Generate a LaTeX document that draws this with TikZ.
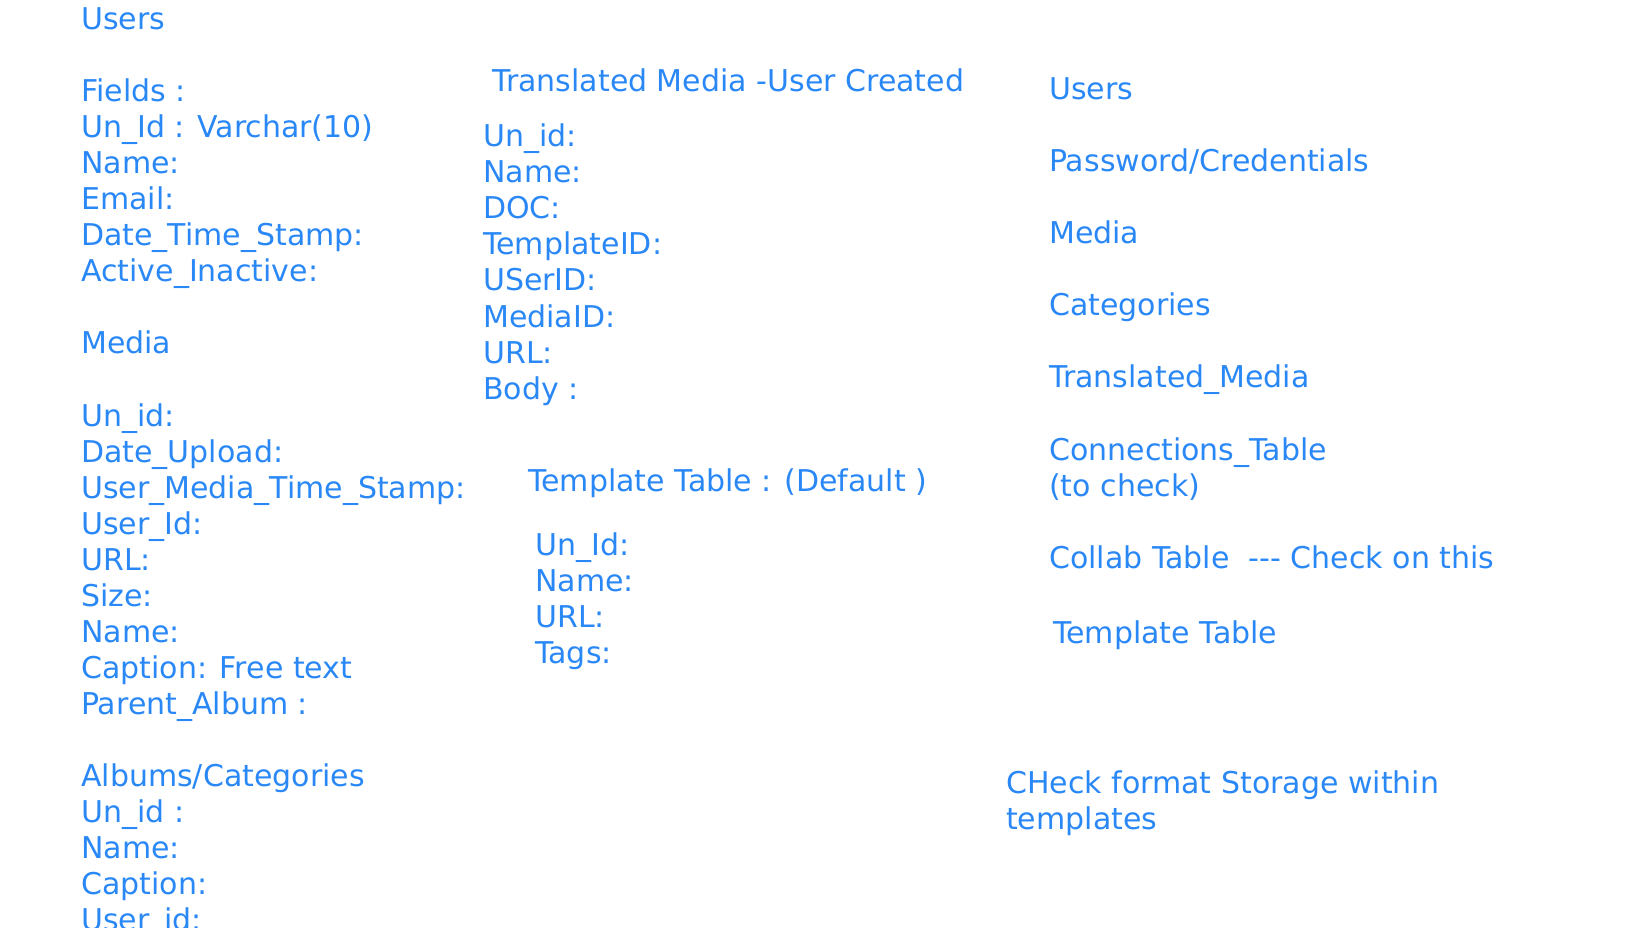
\documentclass[tikz,border=0pt]{standalone}
\usepackage{fontspec}
\setmainfont{DejaVu Sans}
\usepackage{xcolor}
\usepackage{tikz}
\definecolor{noteblue}{RGB}{42,136,246}

\begin{document}
\begin{tikzpicture}[x=1pt,y=-1pt,txt/.style={anchor=base west,inner sep=0pt,text=noteblue,font=\fontsize{30}{36}\selectfont}]
        \useasboundingbox (0,0) rectangle (1648,927);
        \node [txt] (usr0) at (81,29.5) {Users};
        \node [txt] (usr2) at (81,101.6) {Fields :};
        \node [txt] (usr3) at (81,137.6) {Un\_Id : Varchar(10)};
        \node [txt] (usr4) at (81,173.7) {Name:};
        \node [txt] (usr5) at (81,209.7) {Email:};
        \node [txt] (usr6) at (81,245.8) {Date\_Time\_Stamp:};
        \node [txt] (usr7) at (81,281.8) {Active\_Inactive:};
        \node [txt] (med0) at (81,353.9) {Media};
        \node [txt] (med2) at (81,426.0) {Un\_id:};
        \node [txt] (med3) at (81,462.1) {Date\_Upload:};
        \node [txt] (med4) at (81,498.1) {User\_Media\_Time\_Stamp:};
        \node [txt] (med5) at (81,534.2) {User\_Id:};
        \node [txt] (med6) at (81,570.2) {URL:};
        \node [txt] (med7) at (81,606.3) {Size:};
        \node [txt] (med8) at (81,642.3) {Name:};
        \node [txt] (med9) at (81,678.4) {Caption: Free text};
        \node [txt] (med10) at (81,714.4) {Parent\_Album :};
        \node [txt] (alb0) at (81,786.5) {Albums/Categories};
        \node [txt] (alb1) at (81,822.6) {Un\_id :};
        \node [txt] (alb2) at (81,858.6) {Name:};
        \node [txt] (alb3) at (81,894.7) {Caption:};
        \node [txt] (alb4) at (81,930.7) {User\_id:};
        \node [txt] (trm0) at (492,91.7) {Translated Media -User Created};
        \node [txt] (trm1) at (483,146.7) {Un\_id:};
        \node [txt] (trm2) at (483,182.8) {Name:};
        \node [txt] (trm3) at (483,218.8) {DOC:};
        \node [txt] (trm4) at (483,254.9) {TemplateID:};
        \node [txt] (trm5) at (483,290.9) {USerID:};
        \node [txt] (trm6) at (483,327.0) {MediaID:};
        \node [txt] (trm7) at (483,363.0) {URL:};
        \node [txt] (trm8) at (483,399.1) {Body :};
        \node [txt] (tpl0) at (528,491.7) {Template Table : (Default )};
        \node [txt] (tpl1) at (535,555) {Un\_Id:};
        \node [txt] (tpl2) at (535,591) {Name:};
        \node [txt] (tpl3) at (535,627) {URL:};
        \node [txt] (tpl4) at (535,663) {Tags:};
        \node [txt] (lst0) at (1049,99.5) {Users};
        \node [txt] (lst1) at (1049,171.6) {Password/Credentials};
        \node [txt] (lst2) at (1049,243.7) {Media};
        \node [txt] (lst3) at (1049,315.8) {Categories};
        \node [txt] (lst4) at (1049,387.9) {Translated\_Media};
        \node [txt] (lst5) at (1049,460) {Connections\_Table};
        \node [txt] (lst6) at (1049,496) {(to check)};
        \node [txt] (lst7) at (1049,568) {Collab Table\ \ -{}-{}- Check on this};
        \node [txt] (lst8) at (1053,643) {Template Table};
        \node [txt] (chk0) at (1006,793.3) {CHeck format Storage within};
        \node [txt] (chk1) at (1006,829.4) {templates};
    \end{tikzpicture}
\end{document}
